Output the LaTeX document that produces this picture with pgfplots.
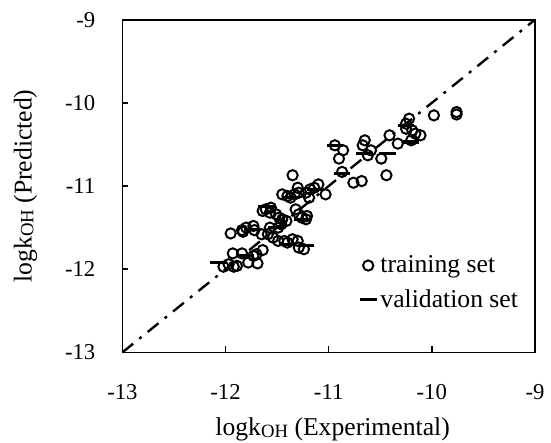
\documentclass[border=0pt]{standalone}
\usepackage{fontspec}
\setmainfont{Liberation Serif}
\usepackage{pgfplots}
\pgfplotsset{compat=1.18}
\usetikzlibrary{calc}

\newcommand{\koh}{logk{\raisebox{-0.15ex}{\fontsize{9.5}{9.5}\selectfont OH}}}

\begin{document}
\begin{tikzpicture}
\begin{axis}[
    scale only axis,
    width=209pt, height=168.5pt,
    xmin=-13, xmax=-9, ymin=-13, ymax=-9,
    xtick={-13,-12,-11,-10,-9},
    ytick={-13,-12,-11,-10,-9},
    tick pos=left,
    tick align=inside,
    major tick length=3pt,
    axis line style={line width=0.8pt},
    every tick/.style={line width=0.8pt, black},
    /pgf/number format/assume math mode=true,
    ticklabel style={font=\fontsize{11.5}{13}\selectfont},
    xticklabel style={anchor=center, yshift=-20pt},
    yticklabel style={anchor=east, inner sep=0pt, xshift=-13.5pt},
    xlabel={\koh{} (Experimental)},
    ylabel={\koh{} (Predicted)},
    label style={font=\fontsize{13}{15}\selectfont, inner sep=0pt},
    xlabel style={at={(axis description cs:0.5,0)}, anchor=south,
                  yshift=-45pt, xshift=2pt},
    ylabel style={at={(axis description cs:0,0.5)}, anchor=south,
                  yshift=43pt},
    legend style={at={(0.57,0.31)}, anchor=north west, draw=none, fill=none,
                  font=\fontsize{13}{15}\selectfont, row sep=3pt,
                  inner sep=1pt},
    legend cell align=left,
    legend image code/.code={\draw[mark repeat=2,mark phase=2,#1]
        plot coordinates {(0cm,0cm) (0.15cm,0cm) (0.3cm,0cm)};},
    clip=false,
]
% training set
\addplot[only marks, mark=o, mark size=2.6pt, line width=1pt, black,
         mark options={fill=white}] coordinates {
(-12.02,-11.97)(-11.97,-11.94)(-11.92,-11.97)(-11.89,-11.96)(-11.93,-11.81)
(-11.84,-11.81)(-11.78,-11.92)(-11.70,-11.82)(-11.69,-11.93)(-11.64,-11.77)
(-11.73,-11.84)(-11.95,-11.57)(-11.84,-11.53)(-11.83,-11.55)(-11.80,-11.50)
(-11.73,-11.48)(-11.72,-11.53)(-11.65,-11.58)(-11.59,-11.58)(-11.57,-11.50)
(-11.64,-11.30)(-11.61,-11.28)(-11.56,-11.26)(-11.57,-11.32)(-11.51,-11.34)
(-11.48,-11.38)(-11.45,-11.40)(-11.41,-11.42)(-11.49,-11.50)(-11.46,-11.46)
(-11.54,-11.62)(-11.49,-11.66)(-11.43,-11.66)(-11.40,-11.68)(-11.35,-11.64)
(-11.30,-11.66)(-11.29,-11.74)(-11.24,-11.76)(-11.45,-11.10)(-11.40,-11.12)
(-11.37,-11.14)(-11.33,-11.10)(-11.30,-11.02)(-11.29,-11.08)(-11.35,-10.87)
(-11.32,-11.28)(-11.29,-11.34)(-11.26,-11.38)(-11.22,-11.40)(-11.21,-11.36)
(-11.22,-11.08)(-11.18,-11.04)(-11.14,-11.02)(-11.10,-10.98)(-11.03,-11.10)
(-11.19,-11.14)(-10.94,-10.51)(-10.90,-10.67)(-10.86,-10.57)(-10.87,-10.83)
(-10.76,-10.96)(-10.68,-10.94)(-10.65,-10.45)(-10.67,-10.51)(-10.62,-10.63)
(-10.59,-10.57)(-10.49,-10.67)(-10.44,-10.87)(-10.41,-10.39)(-10.33,-10.49)
(-10.25,-10.25)(-10.22,-10.19)(-10.25,-10.31)(-10.19,-10.33)(-10.16,-10.37)
(-10.20,-10.45)(-10.11,-10.39)(-9.98,-10.15)(-9.76,-10.11)(-9.76,-10.14)
};
\addlegendentry{training set}
% validation set
\addplot[only marks, mark=-, mark size=4.2pt, black,
         mark options={line width=1.6pt}] coordinates {
(-12.07,-11.92)(-11.80,-11.84)(-11.74,-11.52)(-11.51,-11.50)(-11.40,-11.70)
(-11.22,-11.72)(-11.37,-11.14)(-11.13,-11.04)(-10.43,-10.61)(-10.65,-10.61)
(-10.87,-10.85)(-10.94,-10.51)(-10.25,-10.27)(-10.20,-10.47)(-11.26,-11.40)
(-11.60,-11.25)
};
\addlegendentry{validation set}
% 1:1 line
\addplot[black, line width=1.2pt, dash pattern=on 7pt off 4pt on 1.5pt off 4pt,
         forget plot] coordinates {(-13,-13) (-9,-9)};
\end{axis}
\path ($(current axis.south west)+(-62pt,-45.5pt)$) rectangle
      ($(current axis.north east)+(4.5pt,10pt)$);
\end{tikzpicture}
\end{document}
